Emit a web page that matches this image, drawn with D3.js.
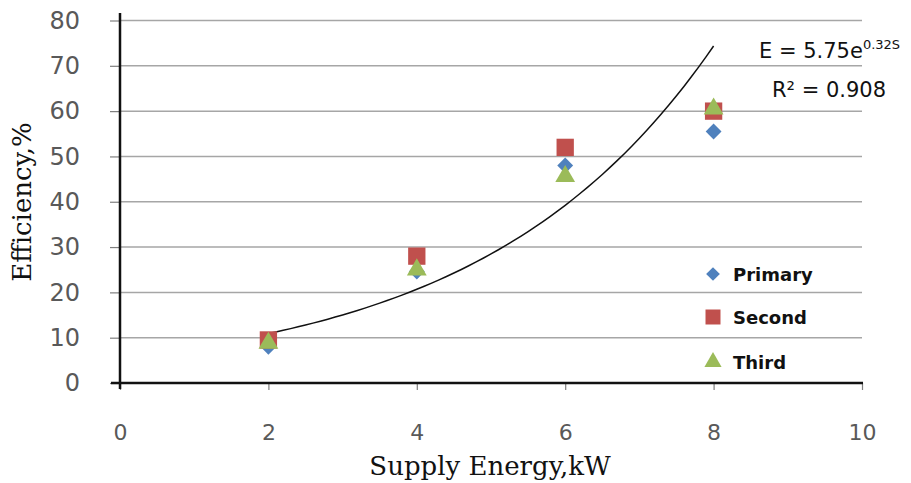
<!DOCTYPE html>
<html>
<head>
<meta charset="utf-8">
<script src="https://cdn.jsdelivr.net/npm/d3@7"></script>
<style>
  body { margin: 0; background: #fff; }
  svg { display: block; }
</style>
</head>
<body>
<svg id="chart" width="911" height="483"></svg>
<script>
const energy = [2, 4, 6, 8];
const primary = [8, 24.6, 48, 55.5];
const second = [9.5, 28, 52, 60];
const third = [8.8, 25, 45.6, 60.5];
const xTicks = [0, 2, 4, 6, 8, 10];
const yTicks = [0, 10, 20, 30, 40, 50, 60, 70, 80];
const fitA = 5.75;
const fitB = 0.32;

const svg = d3.select("#chart");

const x = d3.scaleLinear().domain([0, 10]).range([120, 862]);
const y = d3.scaleLinear().domain([0, 80]).range([383, 20.5]);

// gridlines
svg.append("g")
  .selectAll("line")
  .data(yTicks.filter(d => d > 0))
  .enter()
  .append("line")
  .attr("x1", x(0))
  .attr("x2", x(10))
  .attr("y1", d => y(d))
  .attr("y2", d => y(d))
  .attr("stroke", "#a6a6a6")
  .attr("stroke-width", 1.5);

// y axis
const yAxis = svg.append("g")
  .attr("transform", "translate(" + x(0) + ",0)")
  .call(d3.axisLeft(y).tickValues(yTicks).tickSize(10).tickPadding(30));
yAxis.select(".domain").remove();
yAxis.selectAll(".tick line").attr("stroke", "#7f7f7f").attr("stroke-width", 1.2);
yAxis.selectAll(".tick text")
  .attr("font-family", "DejaVu Sans, sans-serif")
  .attr("font-size", "24px")
  .attr("fill", "#595959");

// x axis
const xAxis = svg.append("g")
  .attr("transform", "translate(0," + y(0) + ")")
  .call(d3.axisBottom(x).tickValues(xTicks).tickSize(7).tickPadding(34));
xAxis.select(".domain").remove();
xAxis.selectAll(".tick line").attr("stroke", "#7f7f7f").attr("stroke-width", 1.2);
xAxis.selectAll(".tick text")
  .attr("font-family", "DejaVu Sans, sans-serif")
  .attr("font-size", "22px")
  .attr("fill", "#595959");

// axis lines
svg.append("line")
  .attr("x1", x(0)).attr("x2", x(0))
  .attr("y1", 13).attr("y2", y(0) + 6)
  .attr("stroke", "#111").attr("stroke-width", 2.5);
svg.append("line")
  .attr("x1", x(0) - 9).attr("x2", x(10) + 1)
  .attr("y1", y(0)).attr("y2", y(0))
  .attr("stroke", "#111").attr("stroke-width", 2.5);

// trend line
const trendPts = d3.range(2, 8.001, 0.1).map(s => [s, fitA * Math.exp(fitB * s)]);
svg.append("path")
  .attr("d", d3.line().x(d => x(d[0])).y(d => y(d[1]))(trendPts))
  .attr("fill", "none")
  .attr("stroke", "#111")
  .attr("stroke-width", 1.5);

const series = [
  { name: "Primary", values: primary, color: "#4f81bd", shape: d3.symbolDiamond2, size: 160 },
  { name: "Second", values: second, color: "#c0504d", shape: d3.symbolSquare, size: 300 },
  { name: "Third", values: third, color: "#9bbb59", shape: d3.symbolTriangle, size: 170 }
];

// markers
series.forEach(s => {
  svg.append("g")
    .selectAll("path")
    .data(energy.map((e, i) => [e, s.values[i]]))
    .enter()
    .append("path")
    .attr("transform", d => "translate(" + x(d[0]) + "," + y(d[1]) + ")")
    .attr("d", d3.symbol().type(s.shape).size(s.size))
    .attr("fill", s.color);
});

// legend
const legendY = [274, 317, 362];
series.forEach((s, i) => {
  svg.append("path")
    .attr("transform", "translate(713," + legendY[i] + ")")
    .attr("d", d3.symbol().type(s.shape).size(s.size * 0.75))
    .attr("fill", s.color);
  svg.append("text")
    .attr("x", 733)
    .attr("y", legendY[i] + 7)
    .attr("font-family", "DejaVu Sans, sans-serif")
    .attr("font-size", "18px")
    .attr("font-weight", "bold")
    .attr("fill", "#111")
    .text(s.name);
});

// equation
const eq = svg.append("text")
  .attr("x", 759)
  .attr("y", 58)
  .attr("font-family", "DejaVu Sans, sans-serif")
  .attr("font-size", "21px")
  .attr("fill", "#111")
  .attr("xml:space", "preserve");
eq.append("tspan").text("E = 5.75e");
eq.append("tspan")
  .attr("dy", -9)
  .attr("font-size", "13px")
  .text("0.32S");

svg.append("text")
  .attr("x", 772)
  .attr("y", 97)
  .attr("font-family", "DejaVu Sans, sans-serif")
  .attr("font-size", "21px")
  .attr("fill", "#111")
  .text("R² = 0.908");

// axis titles
svg.append("text")
  .attr("transform", "translate(31,202) rotate(-90)")
  .attr("text-anchor", "middle")
  .attr("font-family", "DejaVu Serif, serif")
  .attr("font-size", "26px")
  .attr("fill", "#111")
  .text("Efficiency,%");

svg.append("text")
  .attr("x", 490)
  .attr("y", 475)
  .attr("text-anchor", "middle")
  .attr("font-family", "DejaVu Serif, serif")
  .attr("font-size", "26px")
  .attr("fill", "#111")
  .text("Supply Energy,kW");
</script>
</body>
</html>
